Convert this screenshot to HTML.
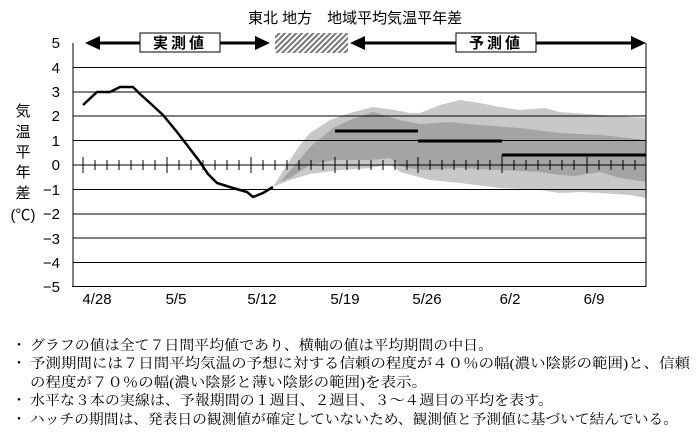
<!DOCTYPE html>
<html><head><meta charset="utf-8"><style>
html,body{margin:0;padding:0;background:#fff;width:700px;height:435px;overflow:hidden}
svg{display:block}
.t{font-family:"Liberation Sans","Noto Sans CJK JP",sans-serif;}
.n{font-family:"Liberation Serif","Noto Serif CJK SC",serif;font-size:14px;fill:#000}
</style></head><body>
<svg width="700" height="435" viewBox="0 0 700 435" xmlns="http://www.w3.org/2000/svg">
<defs>
<pattern id="h" width="4" height="4" patternUnits="userSpaceOnUse" patternTransform="rotate(45)">
<rect width="4" height="4" fill="#fff"/><rect width="2" height="4" fill="#777"/></pattern>
</defs>
<!-- title -->
<text class="t" x="248" y="23" font-size="15">東北 地方　地域平均気温平年差</text>
<!-- bands -->
<path d="M273,187 L290,160 L300,145 L310,133 L330,120 L350,113 L373,107 L395,110 L410,113 L420,113 L440,105 L460,100 L480,103 L500,107 L520,110 L545,108 L560,112 L600,115 L646,118 L646,198 L630,195 L600,193 L580,192 L560,193 L540,190 L500,188 L460,183 L430,180 L400,172 L390,164 L370,168 L340,170 L310,174 L290,180 Z" fill="#c8c8c8"/>
<path d="M280,182 L295,165 L310,147 L333,128 L350,120 L373,112 L400,120 L420,124 L450,122 L480,125 L520,128 L560,133 L600,135 L646,140 L646,182 L620,178 L600,172 L575,176 L560,175 L540,172 L500,170 L460,168 L420,170 L400,166 L390,158 L370,160 L335,160 L310,165 L290,178 Z" fill="#a4a4a4"/>
<!-- grid -->
<g stroke="#000" stroke-width="1">
<line x1="73" y1="67.5" x2="646" y2="67.5"/><line x1="73" y1="92" x2="646" y2="92"/>
<line x1="73" y1="116" x2="646" y2="116"/><line x1="73" y1="140.5" x2="646" y2="140.5"/>
<line x1="73" y1="189.5" x2="646" y2="189.5"/><line x1="73" y1="214" x2="646" y2="214"/>
<line x1="73" y1="238" x2="646" y2="238"/><line x1="73" y1="262.5" x2="646" y2="262.5"/>
<line x1="73" y1="165" x2="646" y2="165"/>
<line x1="73" y1="43" x2="73" y2="287"/><line x1="646" y1="43" x2="646" y2="287"/>
<line x1="72" y1="286.5" x2="646" y2="286.5"/>
</g>
<g stroke="#000" stroke-width="1" id="ticks"></g>
<!-- observed -->
<polyline fill="none" stroke="#000" stroke-width="2.5" stroke-linejoin="round" points="83,105 97,92 110,92 120,87 133,87 140,94 150,103 163,115 177,132 187,145 200,162 208,174 217,183 233,188 247,192 253,197 263,193 273,187"/>
<!-- weekly lines -->
<g stroke="#000" stroke-width="3">
<line x1="335" y1="131" x2="418" y2="131"/>
<line x1="418" y1="141" x2="502" y2="141"/>
<line x1="502" y1="155" x2="646" y2="155"/>
</g>
<line x1="502" y1="155" x2="502" y2="172" stroke="#000"/>
<!-- top arrows -->
<rect x="275" y="33" width="73" height="20" fill="url(#h)"/>
<g stroke="#000" stroke-width="3"><line x1="95" y1="43" x2="260" y2="43"/><line x1="360" y1="43" x2="635" y2="43"/></g>
<polygon points="85,43 100,36 100,50" fill="#000"/>
<polygon points="270,43 255,36 255,50" fill="#000"/>
<polygon points="350,43 365,36 365,50" fill="#000"/>
<polygon points="646,43 631,36 631,50" fill="#000"/>
<rect x="140" y="33" width="80" height="19" fill="#fff" stroke="#000"/>
<rect x="456" y="33" width="80" height="19" fill="#fff" stroke="#000"/>
<text class="t" x="180" y="48" font-size="15" font-weight="bold" text-anchor="middle" letter-spacing="3">実測値</text>
<text class="t" x="496" y="48" font-size="15" font-weight="bold" text-anchor="middle" letter-spacing="3">予測値</text>
<!-- y labels -->
<g class="t" font-size="15" text-anchor="end">
<text x="60" y="48">5</text><text x="60" y="73">4</text><text x="60" y="97">3</text>
<text x="60" y="121">2</text><text x="60" y="146">1</text><text x="60" y="170">0</text>
<text x="60" y="195">−1</text><text x="60" y="219">−2</text><text x="60" y="244">−3</text>
<text x="60" y="268">−4</text><text x="60" y="292">−5</text>
</g>
<g class="t" font-size="15" text-anchor="middle">
<text x="23" y="116">気</text><text x="23" y="137">温</text><text x="23" y="157">平</text>
<text x="23" y="177">年</text><text x="23" y="198">差</text><text x="23" y="220">(℃)</text>
</g>
<!-- x labels -->
<g class="t" font-size="15" text-anchor="middle">
<text x="97" y="304">4/28</text><text x="176" y="304">5/5</text><text x="262" y="304">5/12</text>
<text x="345" y="304">5/19</text><text x="427" y="304">5/26</text><text x="510" y="304">6/2</text>
<text x="594" y="304">6/9</text>
</g>
<!-- notes -->
<g class="n">
<text x="12" y="350">・</text><text x="30" y="350" textLength="463" lengthAdjust="spacingAndGlyphs">グラフの値は全て７日間平均値であり、横軸の値は平均期間の中日。</text>
<text x="12" y="368">・</text><text x="30" y="368" textLength="660" lengthAdjust="spacingAndGlyphs">予測期間には７日間平均気温の予想に対する信頼の程度が４０％の幅(濃い陰影の範囲)と、信頼</text>
<text x="30" y="387" textLength="397" lengthAdjust="spacingAndGlyphs">の程度が７０％の幅(濃い陰影と薄い陰影の範囲)を表示。</text>
<text x="12" y="405">・</text><text x="30" y="405" textLength="523" lengthAdjust="spacingAndGlyphs">水平な３本の実線は、予報期間の１週目、２週目、３～４週目の平均を表す。</text>
<text x="12" y="424">・</text><text x="30" y="424" textLength="648" lengthAdjust="spacingAndGlyphs">ハッチの期間は、発表日の観測値が確定していないため、観測値と予測値に基づいて結んでいる。</text>
</g>
<g stroke="#000" stroke-width="1">
<!-- ticks generated statically -->
<line x1="83" y1="157" x2="83" y2="173"/><line x1="95" y1="160" x2="95" y2="170"/><line x1="107" y1="160" x2="107" y2="170"/><line x1="119" y1="160" x2="119" y2="170"/><line x1="131" y1="160" x2="131" y2="170"/><line x1="143" y1="160" x2="143" y2="170"/><line x1="155" y1="160" x2="155" y2="170"/>
<line x1="167" y1="157" x2="167" y2="173"/><line x1="179" y1="160" x2="179" y2="170"/><line x1="191" y1="160" x2="191" y2="170"/><line x1="203" y1="160" x2="203" y2="170"/><line x1="215" y1="160" x2="215" y2="170"/><line x1="227" y1="160" x2="227" y2="170"/><line x1="239" y1="160" x2="239" y2="170"/>
<line x1="251" y1="157" x2="251" y2="173"/><line x1="263" y1="160" x2="263" y2="170"/><line x1="275" y1="160" x2="275" y2="170"/><line x1="287" y1="160" x2="287" y2="170"/><line x1="299" y1="160" x2="299" y2="170"/><line x1="311" y1="160" x2="311" y2="170"/><line x1="323" y1="160" x2="323" y2="170"/>
<line x1="335" y1="157" x2="335" y2="173"/><line x1="347" y1="160" x2="347" y2="170"/><line x1="359" y1="160" x2="359" y2="170"/><line x1="371" y1="160" x2="371" y2="170"/><line x1="383" y1="160" x2="383" y2="170"/><line x1="395" y1="160" x2="395" y2="170"/><line x1="407" y1="160" x2="407" y2="170"/>
<line x1="418" y1="157" x2="418" y2="173"/><line x1="430" y1="160" x2="430" y2="170"/><line x1="442" y1="160" x2="442" y2="170"/><line x1="454" y1="160" x2="454" y2="170"/><line x1="466" y1="160" x2="466" y2="170"/><line x1="478" y1="160" x2="478" y2="170"/><line x1="490" y1="160" x2="490" y2="170"/>
<line x1="502" y1="157" x2="502" y2="173"/><line x1="514" y1="160" x2="514" y2="170"/><line x1="526" y1="160" x2="526" y2="170"/><line x1="538" y1="160" x2="538" y2="170"/><line x1="550" y1="160" x2="550" y2="170"/><line x1="562" y1="160" x2="562" y2="170"/><line x1="574" y1="160" x2="574" y2="170"/>
<line x1="587" y1="157" x2="587" y2="173"/><line x1="599" y1="160" x2="599" y2="170"/><line x1="611" y1="160" x2="611" y2="170"/><line x1="623" y1="160" x2="623" y2="170"/><line x1="635" y1="160" x2="635" y2="170"/>
</g>
</svg>
</body></html>
